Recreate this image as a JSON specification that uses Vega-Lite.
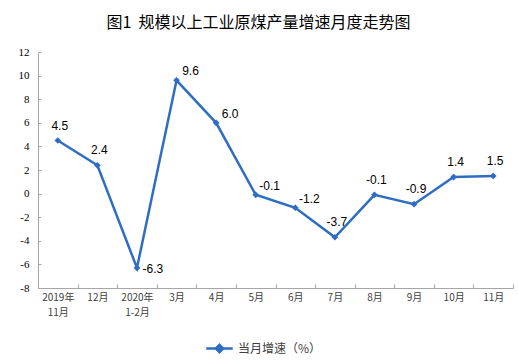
{
  "$schema": "https://vega.github.io/schema/vega-lite/v6.json",
  "autosize": "none",
  "width": 475,
  "height": 236,
  "padding": {"left": 38, "top": 52, "right": 5, "bottom": 74},
  "background": "white",
  "title": {
    "text": "图1\u00a0\u00a0规模以上工业原煤产量增速月度走势图",
    "font": "Noto Sans CJK SC",
    "fontSize": 16,
    "fontWeight": "normal",
    "color": "#000000",
    "anchor": "middle",
    "dx": -17,
    "offset": 15
  },
  "config": {
    "view": {"stroke": null},
    "axis": {"grid": false}
  },
  "data": {
    "values": [
      {"month": "2019年|11月", "value": 4.5, "label": "4.5", "pos": "above"},
      {"month": "12月", "value": 2.4, "label": "2.4", "pos": "above"},
      {"month": "2020年|1-2月", "value": -6.3, "label": "-6.3", "pos": "right"},
      {"month": "3月", "value": 9.6, "label": "9.6", "pos": "upright"},
      {"month": "4月", "value": 6.0, "label": "6.0", "pos": "upright"},
      {"month": "5月", "value": -0.1, "label": "-0.1", "pos": "upright"},
      {"month": "6月", "value": -1.2, "label": "-1.2", "pos": "upright"},
      {"month": "7月", "value": -3.7, "label": "-3.7", "pos": "above"},
      {"month": "8月", "value": -0.1, "label": "-0.1", "pos": "above"},
      {"month": "9月", "value": -0.9, "label": "-0.9", "pos": "above"},
      {"month": "10月", "value": 1.4, "label": "1.4", "pos": "above"},
      {"month": "11月", "value": 1.5, "label": "1.5", "pos": "above"}
    ]
  },
  "encoding": {
    "x": {
      "field": "month",
      "type": "nominal",
      "sort": null,
      "scale": {"paddingInner": 0, "paddingOuter": 0},
      "axis": {
        "title": null,
        "labelAngle": 0,
        "labelExpr": "isValid(datum.value) ? split(datum.value, '|') : ''",
        "labelFont": "Noto Sans CJK SC",
        "labelFontSize": 10,
        "labelColor": "#404040",
        "labelPadding": 8,
        "labelLineHeight": 15,
        "tickBand": "extent",
        "tickSize": -4,
        "tickColor": "#a6a6a6",
        "domainColor": "#a6a6a6",
        "offset": 0
      }
    },
    "y": {
      "field": "value",
      "type": "quantitative",
      "scale": {"domain": [-8, 12], "nice": false},
      "axis": {
        "title": null,
        "values": [-8, -6, -4, -2, 0, 2, 4, 6, 8, 10, 12],
        "labelExpr": "'' + datum.value",
        "labelFont": "Liberation Serif",
        "labelFontSize": 11,
        "labelColor": "#000000",
        "labelPadding": 12,
        "tickSize": -3,
        "tickColor": "#a6a6a6",
        "domainColor": "#a6a6a6"
      }
    }
  },
  "layer": [
    {
      "mark": {"type": "line", "strokeWidth": 2.5, "color": "#2E6DC2"},
      "encoding": {
        "color": {
          "datum": "当月增速（%）",
          "scale": {"range": ["#2E6DC2"]},
          "legend": {
            "title": null,
            "orient": "none",
            "legendX": 167,
            "legendY": 282,
            "symbolType": "M-1,0L1,0M0,-0.28L0.28,0L0,0.28L-0.28,0Z",
            "symbolSize": 700,
            "symbolStrokeWidth": 2.5,
            "symbolStrokeColor": "#2E6DC2",
            "symbolFillColor": "#2E6DC2",
            "labelFont": "Noto Sans CJK SC",
            "labelFontSize": 12,
            "labelColor": "#404040",
            "labelOffset": 4
          }
        }
      }
    },
    {
      "mark": {"type": "point", "shape": "diamond", "filled": true, "size": 45, "color": "#2E6DC2", "opacity": 1}
    },
    {
      "transform": [{"filter": "datum.pos == 'above'"}],
      "mark": {"type": "text", "font": "Liberation Sans", "fontSize": 12, "color": "#000000", "dx": 2, "dy": -15, "baseline": "middle"},
      "encoding": {"text": {"field": "label", "type": "nominal"}}
    },
    {
      "transform": [{"filter": "datum.pos == 'upright'"}],
      "mark": {"type": "text", "font": "Liberation Sans", "fontSize": 12, "color": "#000000", "dx": 14, "dy": -9, "baseline": "middle"},
      "encoding": {"text": {"field": "label", "type": "nominal"}}
    },
    {
      "transform": [{"filter": "datum.pos == 'right'"}],
      "mark": {"type": "text", "font": "Liberation Sans", "fontSize": 12, "color": "#000000", "dx": 16, "dy": 1, "baseline": "middle"},
      "encoding": {"text": {"field": "label", "type": "nominal"}}
    }
  ]
}
